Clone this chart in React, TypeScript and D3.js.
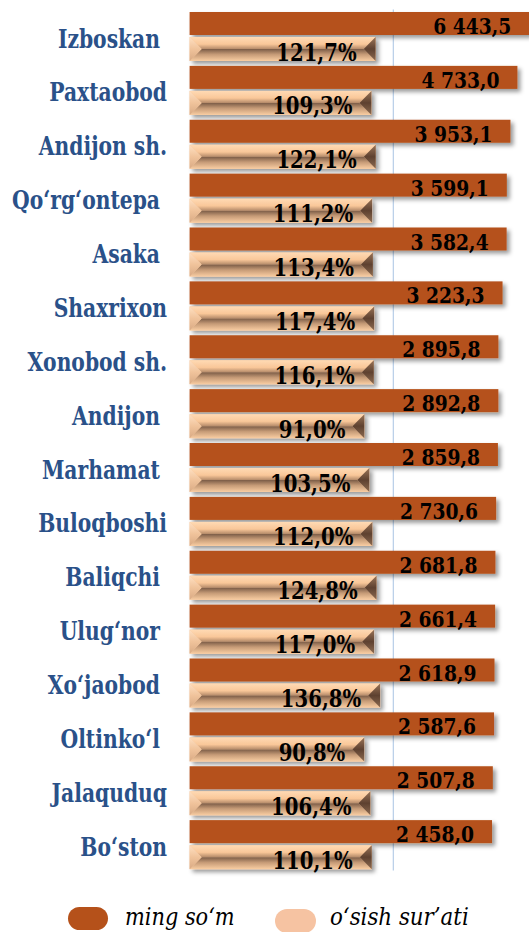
import React from "react";
import * as d3 from "d3";

const categories = [
  "Izboskan ", "Paxtaobod", "Andijon sh.", "Qo‘rg‘ontepa ", "Asaka ", "Shaxrixon",
  "Xonobod sh.", "Andijon ", "Marhamat ", "Buloqboshi", "Baliqchi ", "Ulug‘nor ",
  "Xo‘jaobod ", "Oltinko‘l ", "Jalaquduq", "Bo‘ston",
];
const valuesMing = [
  6443.5, 4733.0, 3953.1, 3599.1, 3582.4, 3223.3, 2895.8, 2892.8, 2859.8, 2730.6,
  2681.8, 2661.4, 2618.9, 2587.6, 2507.8, 2458.0,
];
const valuesPct = [
  121.7, 109.3, 122.1, 111.2, 113.4, 117.4, 116.1, 91.0, 103.5, 112.0, 124.8, 117.0,
  136.8, 90.8, 106.4, 110.1,
];
const gridValues = [192];
const legendLabels = ["ming so‘m", "o‘sish sur’ati"];

const W = 529;
const H = 932;
const X0 = 189.6;
const PX_PER_DECADE = 89.2;
const TOP = 9.5;
const BOTTOM = 871.5;

const fmtMing = (v: number) => {
  const [i, f] = v.toFixed(1).split(".");
  const withSpace = i.replace(/\B(?=(\d{3})+(?!\d))/g, " ");
  return `${withSpace},${f}`;
};
const fmtPct = (v: number) => `${v.toFixed(1).replace(".", ",")}%`;

const serif = "DejaVu Serif";

function SText(props: {
  x: number; y: number; sx: number; size: number; anchor?: string; weight?: string;
  italic?: boolean; fill?: string; children: React.ReactNode;
}) {
  const { x, y, sx, size, anchor = "start", weight = "normal", italic = false, fill = "#000", children } = props;
  return (
    <text
      transform={`translate(${x},${y}) scale(${sx},1)`}
      textAnchor={anchor}
      fontFamily={serif}
      fontWeight={weight}
      fontStyle={italic ? "italic" : "normal"}
      fontSize={size}
      fill={fill}
      style={{ whiteSpace: "pre" }}
    >
      {children}
    </text>
  );
}

export default function App() {
  const x = d3.scaleLog().domain([1, 10000]).range([X0, X0 + 4 * PX_PER_DECADE]);
  const y = d3.scaleBand<number>().domain(d3.range(categories.length)).range([TOP, BOTTOM]).padding(0);
  const darkH = 23;
  const lightH = 24;
  const dark = "#b5511a";

  return (
    <svg
      width={W}
      height={H}
      style={{ position: "absolute", left: 0, top: 0, background: "#fff", fontFamily: serif }}
    >
      <defs>
        <filter id="sh" x="-5%" y="-30%" width="115%" height="180%">
          <feDropShadow dx="3" dy="3" stdDeviation="2" floodColor="#000" floodOpacity="0.4" />
        </filter>
        <linearGradient id="topG" x1="0" y1="0" x2="0" y2="1">
          <stop offset="0" stopColor="#ffdab4" />
          <stop offset="0.6" stopColor="#f9c799" />
          <stop offset="1" stopColor="#b48a69" />
        </linearGradient>
        <linearGradient id="botG" x1="0" y1="0" x2="0" y2="1">
          <stop offset="0" stopColor="#7a5b46" />
          <stop offset="0.45" stopColor="#c69b77" />
          <stop offset="1" stopColor="#f9cda2" />
        </linearGradient>
        <linearGradient id="leftG" x1="0" y1="0" x2="0" y2="1">
          <stop offset="0" stopColor="#ffe0c2" />
          <stop offset="0.5" stopColor="#f0c39b" />
          <stop offset="1" stopColor="#d9aa84" />
        </linearGradient>
        <linearGradient id="rightG" x1="0" y1="0" x2="0" y2="1">
          <stop offset="0" stopColor="#9a7457" />
          <stop offset="0.5" stopColor="#5e4130" />
          <stop offset="1" stopColor="#8c6a50" />
        </linearGradient>
      </defs>

      {gridValues.map((g) => (
        <line key={g} x1={x(g)} x2={x(g)} y1={TOP} y2={BOTTOM - 1} stroke="#a8c3e3" strokeWidth={1} />
      ))}

      {categories.map((c, i) => {
        const y0 = y(i)!;
        const dy = y0 + 2.5;
        const ly = y0 + 27.5;
        const dx1 = Math.min(x(valuesMing[i]), W + 5);
        const lx1 = x(valuesPct[i]);
        const b = lightH / 2;
        const ymid = ly + lightH / 2;
        const ly1 = ly + lightH;
        return (
          <g key={c}>
            <rect x={X0} y={dy} width={dx1 - X0} height={darkH} fill={dark} filter="url(#sh)" />
            <g filter="url(#sh)">
              <rect x={X0} y={ly} width={lx1 - X0} height={lightH} fill="#f3c49c" />
            </g>
            <polygon points={`${X0},${ly} ${lx1},${ly} ${lx1 - b},${ymid} ${X0 + b},${ymid}`} fill="url(#topG)" />
            <polygon points={`${X0},${ly1} ${lx1},${ly1} ${lx1 - b},${ymid} ${X0 + b},${ymid}`} fill="url(#botG)" />
            <polygon points={`${X0},${ly} ${X0 + b},${ymid} ${X0},${ly1}`} fill="url(#leftG)" />
            <polygon points={`${lx1},${ly} ${lx1 - b},${ymid} ${lx1},${ly1}`} fill="url(#rightG)" />
            <SText x={167} y={y0 + 38} sx={0.78} size={26} anchor="end" weight="bold" fill="#2a5189">
              {c}
            </SText>
            <SText x={x(valuesMing[i]) - 18} y={dy + darkH - 1} sx={0.85} size={22} anchor="end" weight="bold">
              {fmtMing(valuesMing[i])}
            </SText>
            <SText x={lx1 - 19} y={ly1 - 0.5} sx={0.82} size={24} anchor="end" weight="bold">
              {fmtPct(valuesPct[i])}
            </SText>
          </g>
        );
      })}

      <g>
        <rect x={68} y={907} width={40} height={23} rx={11.5} fill={dark} />
        <SText x={125} y={925} sx={0.87} size={24} italic>
          {legendLabels[0]}
        </SText>
        <rect x={275} y={909} width={41} height={24} rx={12} fill="#f6c3a2" />
        <SText x={330} y={925} sx={0.89} size={24} italic>
          {legendLabels[1]}
        </SText>
      </g>
    </svg>
  );
}
